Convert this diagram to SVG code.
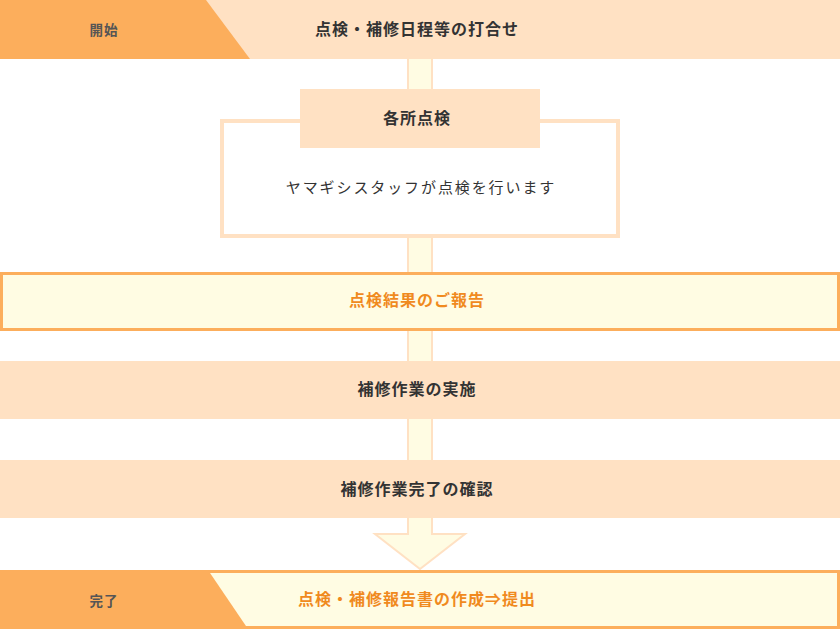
<svg xmlns="http://www.w3.org/2000/svg" width="840" height="629" viewBox="0 0 840 629">
<style>
text{font-family:"Noto Sans CJK JP","Noto Sans",sans-serif;text-anchor:middle;dominant-baseline:central}
.b{font-size:16px;font-weight:bold;letter-spacing:1px;fill:#333}
.o{font-size:16px;font-weight:bold;letter-spacing:1px;fill:#F08A1E}
.lab{font-size:13.5px;font-weight:bold;letter-spacing:1px;fill:#555}
.n{font-size:15px;letter-spacing:1.9px;fill:#333}
.peach{fill:#FFE1C3}
.cream{fill:#FFFCE3}
.orng{fill:#FCAE5C}
</style>
<rect width="840" height="629" fill="#fff"/>
<g id="connectors">
<rect x="408" y="55" width="24" height="480" fill="#FFFCE3" stroke="#FFE1C3" stroke-width="2"/>
<polygon points="408,534 375,534 420,569 465,534 432,534 432,520 408,520" fill="#FFFCE3" stroke="#FFE1C3" stroke-width="2"/>
<rect x="409" y="518" width="22" height="17" fill="#FFFCE3"/>
</g>
<g id="start">
<rect x="0" y="0" width="840" height="59" class="peach"/>
<polygon points="0,0 206,0 250,59 0,59" class="orng"/>
<text x="104" y="29" class="lab">開始</text>
<text x="417" y="28" class="b">点検・補修日程等の打合せ</text>
</g>
<g id="inspect">
<rect x="222" y="121" width="396" height="115" fill="#fff" stroke="#FFE1C3" stroke-width="4"/>
<rect x="300" y="89" width="240" height="59" class="peach"/>
<text x="417" y="117" class="b">各所点検</text>
<text x="421" y="186" class="n">ヤマギシスタッフが点検を行います</text>
</g>
<g id="report">
<rect x="1.5" y="273.5" width="837" height="56" fill="#FFFCE3" stroke="#FCAE5C" stroke-width="3"/>
<text x="417" y="299" class="o">点検結果のご報告</text>
</g>
<g id="repair">
<rect x="0" y="361" width="840" height="58" class="peach"/>
<text x="417" y="388" class="b">補修作業の実施</text>
</g>
<g id="confirm">
<rect x="0" y="460" width="840" height="58" class="peach"/>
<text x="417" y="488" class="b">補修作業完了の確認</text>
</g>
<g id="finish">
<rect x="1.5" y="571.5" width="837" height="56" fill="#FFFCE3" stroke="#FCAE5C" stroke-width="3"/>
<polygon points="0,570 208,570 248,629 0,629" class="orng"/>
<text x="104" y="600" class="lab">完了</text>
<text x="417" y="598" class="o">点検・補修報告書の作成⇒提出</text>
</g>
</svg>
